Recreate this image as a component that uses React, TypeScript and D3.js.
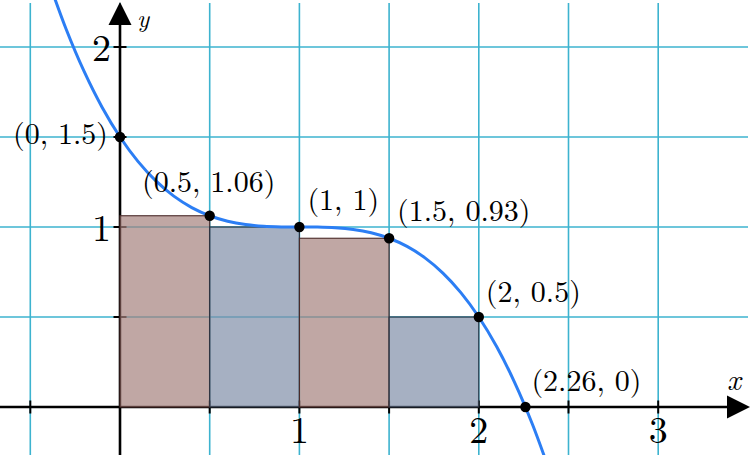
import React from "react";
import * as d3 from "d3";

// ---- data ----
const curveX = [-0.4, -0.3, -0.2, -0.1, 0, 0.1, 0.2, 0.3, 0.4, 0.5, 0.6, 0.7, 0.8, 0.9, 1.0, 1.1, 1.2, 1.3, 1.4, 1.5, 1.6, 1.7, 1.8, 1.9, 2.0, 2.1, 2.2, 2.3, 2.4];
const curveY = [2.372, 2.0985, 1.864, 1.6655, 1.5, 1.3645, 1.256, 1.1715, 1.108, 1.0625, 1.032, 1.0135, 1.004, 1.0005, 1.0, 0.9995, 0.996, 0.9865, 0.968, 0.9375, 0.892, 0.8285, 0.744, 0.6355, 0.5, 0.3345, 0.136, -0.0985, -0.372];

const rectLeft = [0, 0.5, 1, 1.5];
const rectRight = [0.5, 1, 1.5, 2];
const rectHeight = [1.0625, 1.0, 0.9375, 0.5];
const rectKind = ["brown", "blue", "brown", "blue"];

const pointX = [0, 0.5, 1, 1.5, 2, 2.26];
const pointY = [1.5, 1.0625, 1, 0.9375, 0.5, 0];
const pointLabels = ["(0, 1.5)", "(0.5, 1.06)", "(1, 1)", "(1.5, 0.93)", "(2, 0.5)", "(2.26, 0)"];

const xTickValues = [1, 2, 3];
const xTickLabels = ["1", "2", "3"];
const yTickValues = [1, 2];
const yTickLabels = ["1", "2"];
const xMinorTicks = [-0.5, 0.5, 1, 1.5, 2, 2.5, 3];
const yMinorTicks = [0.5, 1, 1.5, 2];
const gridX = [-0.5, 0, 0.5, 1, 1.5, 2, 2.5, 3];
const gridY = [0.5, 1, 1.5, 2];

// ---- styles / placement ----
const W = 750;
const H = 455;
const FONT = "'Latin Modern Roman', 'CMU Serif', 'Liberation Serif', serif";
const GRID = "#3db3cf";
const fills: Record<string, { fill: string; stroke: string }> = {
  brown: { fill: "rgb(165,129,126)", stroke: "#4a2a28" },
  blue: { fill: "rgb(128,142,168)", stroke: "#28303e" },
};
const labelPlace = [
  { dx: -12, dy: 7, anchor: "end" },
  { dx: -1, dy: -24, anchor: "middle" },
  { dx: 8, dy: -17, anchor: "start" },
  { dx: 8, dy: -17, anchor: "start" },
  { dx: 7, dy: -15, anchor: "start" },
  { dx: 6, dy: -16, anchor: "start" },
];

export default function App() {
  const x = d3.scaleLinear().domain([0, 3]).range([120, 658.2]);
  const y = d3.scaleLinear().domain([0, 2]).range([407, 47]);

  const line = d3
    .line<number>()
    .x((_, i) => x(curveX[i]))
    .y((d) => y(d))
    .curve(d3.curveCatmullRom);

  const x0 = x(0);
  const y0 = y(0);

  return (
    <div style={{ position: "absolute", left: 0, top: 0 }}>
      <svg width={W} height={H} style={{ display: "block", background: "#fff" }}>
        {/* grid */}
        <g stroke={GRID} strokeWidth={1.6}>
          {gridX.map((v) => (
            <line key={"gx" + v} x1={x(v)} x2={x(v)} y1={3} y2={H} />
          ))}
          {gridY.map((v) => (
            <line key={"gy" + v} x1={0} x2={748} y1={y(v)} y2={y(v)} />
          ))}
        </g>

        {/* axes */}
        <g stroke="#000" strokeWidth={2.6}>
          <line x1={0} x2={730} y1={y0} y2={y0} />
          <line x1={x0} x2={x0} y1={H} y2={20} />
        </g>
        <path d={`M750,${y0} L727,${y0 - 11.5} L727,${y0 + 11.5} Z`} fill="#000" />
        <path d={`M${x0},2 L${x0 - 11.5},25 L${x0 + 11.5},25 Z`} fill="#000" />
        <g stroke="#000" strokeWidth={2}>
          {xMinorTicks.map((v) => (
            <line key={"xt" + v} x1={x(v)} x2={x(v)} y1={y0 - 6.5} y2={y0 + 6.5} />
          ))}
          {yMinorTicks.map((v) => (
            <line key={"yt" + v} x1={x0 - 6.5} x2={x0 + 6.5} y1={y(v)} y2={y(v)} />
          ))}
        </g>

        {/* rectangles */}
        {rectLeft.map((l, i) => (
          <rect
            key={"r" + i}
            x={x(l)}
            y={y(rectHeight[i])}
            width={x(rectRight[i]) - x(l)}
            height={y(0) - y(rectHeight[i])}
            fill={fills[rectKind[i]].fill}
            fillOpacity={0.7}
            stroke={fills[rectKind[i]].stroke}
            strokeWidth={1.1}
          />
        ))}

        {/* curve */}
        <path d={line(curveY) || ""} fill="none" stroke="#2c7ef4" strokeWidth={3} />

        {/* points */}
        {pointX.map((px, i) => (
          <circle key={"p" + i} cx={x(px)} cy={y(pointY[i])} r={5.2} fill="#000" />
        ))}

        {/* point labels */}
        <g fontFamily={FONT} fontSize={30} fill="#000">
          {pointX.map((px, i) => (
            <text
              key={"pl" + i}
              x={x(px) + labelPlace[i].dx}
              y={y(pointY[i]) + labelPlace[i].dy}
              textAnchor={labelPlace[i].anchor as any}
            >
              {pointLabels[i]}
            </text>
          ))}
        </g>

        {/* tick labels */}
        <g fontFamily={FONT} fontSize={38} fill="#000">
          {xTickValues.map((v, i) => (
            <text key={"xl" + v} x={x(v)} y={443} textAnchor="middle">
              {xTickLabels[i]}
            </text>
          ))}
          {yTickValues.map((v, i) => (
            <text key={"yl" + v} x={111} y={y(v) + 14} textAnchor="end">
              {yTickLabels[i]}
            </text>
          ))}
        </g>

        {/* axis labels */}
        <g fontFamily={FONT} fontStyle="italic" fill="#000">
          <text x={727} y={390} fontSize={30}>x</text>
          <text x={137} y={27} fontSize={25}>y</text>
        </g>
      </svg>
    </div>
  );
}
